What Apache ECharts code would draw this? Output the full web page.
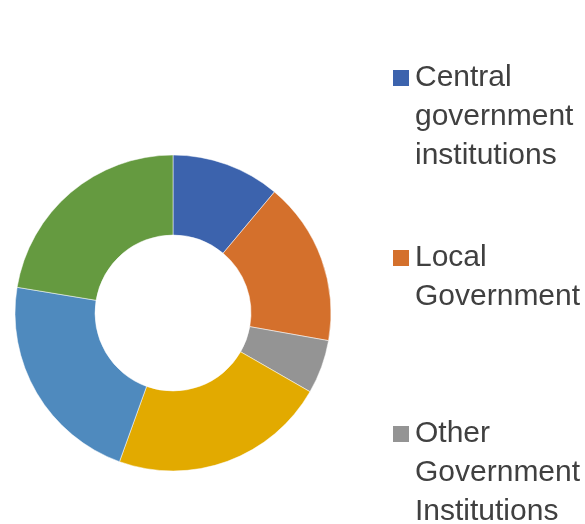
<!DOCTYPE html>
<html>
<head>
<meta charset="utf-8">
<script src="https://cdn.jsdelivr.net/npm/echarts@6/dist/echarts.min.js"></script>
<style>
html,body{margin:0;padding:0;background:#fff;}
#chart{width:585px;height:524px;}
</style>
</head>
<body>
<div id="chart"></div>
<script>
const categories = ['Central government institutions', 'Local Government', 'Other Government Institutions', 'Category 4', 'Category 5', 'Category 6'];
const values = [11.1, 16.7, 5.5, 22.2, 22.1, 22.4];
const colors = ['#3c63ad', '#d4702c', '#949494', '#e2aa00', '#4f8abe', '#659a40'];
const legendNames = ['Central government institutions', 'Local Government', 'Other Government Institutions'];

const LH = 39;
const iconCenters = [78, 258, 434];

const chart = echarts.init(document.getElementById('chart'), null, {renderer: 'canvas'});

const legends = legendNames.map((name, i) => {
  const words = name.split(' ');
  const n = words.length;
  return {
    data: [name],
    orient: 'vertical',
    left: 391,
    top: iconCenters[i] - (2 * n - 1) * LH / 2,
    padding: 0,
    itemWidth: 18,
    itemHeight: 18,
    icon: 'rect',
    selectedMode: false,
    formatter: (nm) => {
      const w = nm.split(' ');
      return '\u200b\n'.repeat(w.length - 1) + w.join('\n');
    },
    textStyle: {
      fontFamily: 'Liberation Sans',
      fontSize: 30,
      lineHeight: LH,
      color: '#404040'
    }
  };
});

chart.setOption({
  animation: false,
  color: colors,
  legend: legends,
  series: [{
    type: 'pie',
    center: [173, 313],
    radius: [78, 158],
    startAngle: 90,
    clockwise: true,
    label: {show: false},
    labelLine: {show: false},
    emphasis: {disabled: true},
    itemStyle: {borderColor: '#ffffff', borderWidth: 0.5},
    data: categories.map((c, i) => ({name: c, value: values[i]}))
  }]
});
</script>
</body>
</html>
